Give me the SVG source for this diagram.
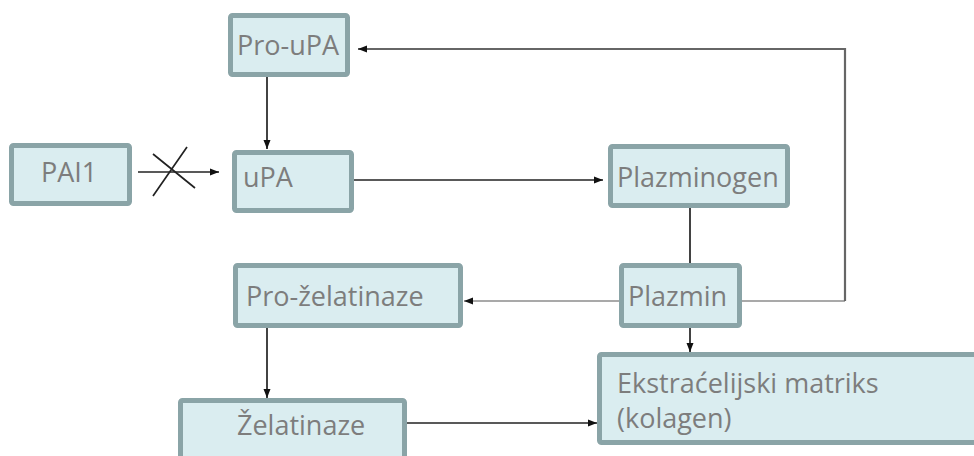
<svg xmlns="http://www.w3.org/2000/svg" width="974" height="456" viewBox="0 0 974 456">
<defs>
<style>
.box{fill:#daedf0;stroke:#8aa4a7;stroke-width:5}
.lbl{font-family:"Open Sans","Noto Sans",sans-serif;font-size:27px;fill:#7d7d7d}
.ln{fill:none;stroke:#222;stroke-width:1.7}
.lg{fill:none;stroke:#8c8c8c;stroke-width:1.7}
.dg{fill:none;stroke:#666;stroke-width:2.2}
</style>
<marker id="ah" markerUnits="userSpaceOnUse" markerWidth="10" markerHeight="8" refX="9" refY="4" orient="auto">
<path d="M0,0.5 L9,4 L0,7.5 Z" fill="#111"/>
</marker>
</defs>
<rect width="974" height="456" fill="#fff"/>
<g id="connectors">
<path class="ln" d="M267 77 V149" marker-end="url(#ah)"/>
<path class="ln" d="M138 172 H219" marker-end="url(#ah)"/>
<path class="ln" d="M153 196 L187 147 M153 154 L195 188"/>
<path class="ln" d="M354 180 H603" marker-end="url(#ah)"/>
<path class="ln" d="M690 208 V263"/>
<path class="ln" d="M690 328 V352" marker-end="url(#ah)"/>
<path class="lg" d="M619 301 H464" marker-end="url(#ah)"/>
<path class="lg" d="M742 301 H845"/>
<path class="dg" d="M845 301 V49 H358" marker-end="url(#ah)"/>
<path class="ln" d="M267 328 V398" marker-end="url(#ah)"/>
<path class="ln" d="M407 423 H597" marker-end="url(#ah)"/>
</g>
<g id="pro-upa"><rect class="box" x="230.5" y="15.5" width="117" height="59" rx="2"/><text class="lbl" x="237" y="55">Pro-uPA</text></g>
<g id="pai1"><rect class="box" x="11.5" y="145.5" width="118" height="58" rx="2"/><text class="lbl" x="41" y="182">PAI1</text></g>
<g id="upa"><rect class="box" x="234.5" y="152.5" width="117" height="58" rx="2"/><text class="lbl" x="243" y="187">uPA</text></g>
<g id="plazminogen"><rect class="box" x="610.5" y="146.5" width="177" height="59" rx="2"/><text class="lbl" x="617" y="187">Plazminogen</text></g>
<g id="pro-zelatinaze"><rect class="box" x="235.5" y="265.5" width="225" height="60" rx="2"/><text class="lbl" x="246" y="306">Pro-želatinaze</text></g>
<g id="plazmin"><rect class="box" x="621.5" y="265.5" width="118" height="60" rx="2"/><text class="lbl" x="628" y="306">Plazmin</text></g>
<g id="zelatinaze"><rect class="box" x="180.5" y="400.5" width="224" height="70" rx="2"/><text class="lbl" x="237" y="435">Želatinaze</text></g>
<g id="ekstracelijski-matriks"><rect class="box" x="599.5" y="354.5" width="400" height="88" rx="2"/><text class="lbl" x="617" y="393">Ekstraćelijski matriks</text><text class="lbl" x="617" y="428">(kolagen)</text></g>
</svg>
